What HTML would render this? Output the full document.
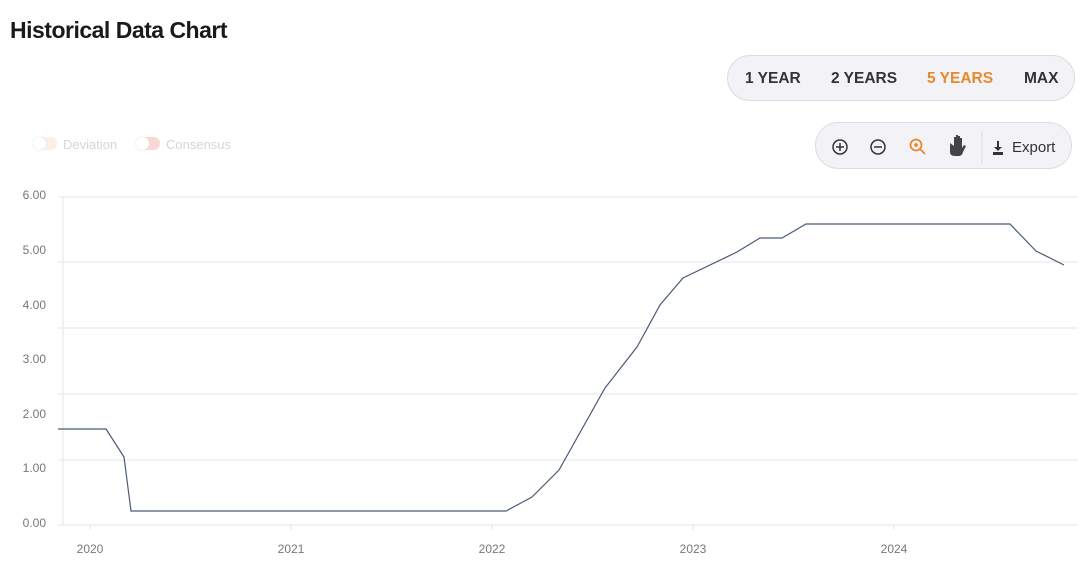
<!DOCTYPE html>
<html><head><style>
body{margin:0;width:1084px;height:580px;background:#fff;font-family:"Liberation Sans",sans-serif;position:relative;overflow:hidden}
.t{position:absolute;left:10px;top:17px;font-size:23px;font-weight:bold;color:#1a1a1a;letter-spacing:-0.5px}
.rg{position:absolute;left:727px;top:55px;width:348px;height:46px;border:1px solid #dcdce2;border-radius:24px;background:#f3f3f7;box-sizing:border-box}
.rg span{position:absolute;top:14px;font-size:15.5px;font-weight:bold;color:#333}
.tb{position:absolute;left:815px;top:122px;width:257px;height:47px;border:1px solid #dcdce2;border-radius:24px;background:#f3f3f7;box-sizing:border-box}
.lg{position:absolute;top:137px;font-size:13px;color:#d5d5d5}
.tg{position:absolute;top:137px;width:24px;height:13px;border-radius:7px}
.tg i{position:absolute;left:0;top:0;width:13px;height:13px;border-radius:50%;background:#fff;box-shadow:0 0 2px #ddd}
</style></head><body>
<div class="t">Historical Data Chart</div>
<div class="rg"><span style="left:17px">1 YEAR</span><span style="left:103px">2 YEARS</span><span style="left:199px;color:#e8892b">5 YEARS</span><span style="left:296px">MAX</span></div>
<div class="tb">
<svg width="257" height="47" style="position:absolute;left:0;top:0">
<g fill="none" stroke="#333" stroke-width="1.5"><circle cx="24" cy="24" r="7"/><path d="M20 24h8M24 20v8"/><circle cx="62" cy="24" r="7"/><path d="M58 24h8"/></g>
<g fill="none" stroke="#e8892b" stroke-width="1.8"><circle cx="100" cy="22" r="5.5"/><path d="M104 26l5 5M98 22h4M100 20v4"/></g>
<path d="M134 20v9q0 4 5 4h4q3 0 4-4l3-6-2-1-2 3v-10h-2v8-10h-2v10-11h-2v11-9h-2v9z" fill="#444"/>
<line x1="166" y1="8" x2="166" y2="40" stroke="#ddd"/>
<path d="M181 18v6h-3l4 4 4-4h-3v-6zM177 29v3h10v-3z" fill="#333"/>
<text x="196" y="29" font-size="15" fill="#333" font-family="Liberation Sans">Export</text>
</svg></div>
<div class="tg" style="left:33px;background:#fdeee6"><i></i></div><div class="lg" style="left:63px">Deviation</div>
<div class="tg" style="left:136px;background:#f7d8d3"><i></i></div><div class="lg" style="left:166px">Consensus</div>
<svg width="1084" height="580" style="position:absolute;left:0;top:0" font-family="Liberation Sans" font-size="12" fill="#777">
<g stroke="#e6e6e6" stroke-width="1">
<path d="M58 197H1078M58 262H1078M58 328H1078M58 394H1078M58 460H1078M58 525H1078"/>
<path d="M63 197V525"/>
<path d="M90 525v5M291 525v5M492 525v5M693 525v5M894 525v5"/>
</g>
<g text-anchor="end"><text x="46" y="199">6.00</text><text x="46" y="254">5.00</text><text x="46" y="309">4.00</text><text x="46" y="363">3.00</text><text x="46" y="418">2.00</text><text x="46" y="472">1.00</text><text x="46" y="527">0.00</text></g>
<g text-anchor="middle"><text x="90" y="553">2020</text><text x="291" y="553">2021</text><text x="492" y="553">2022</text><text x="693" y="553">2023</text><text x="894" y="553">2024</text></g>
<polyline fill="none" stroke="#4a5a78" stroke-width="1.2" points="58,429 106,429 124,457 131,511 506,511 532,497 559,470 605,388 637,347 660,305 683,278 737,252 760,238 782,238 806,224 1010,224 1036,251 1064,265"/>
</svg>
</body></html>
